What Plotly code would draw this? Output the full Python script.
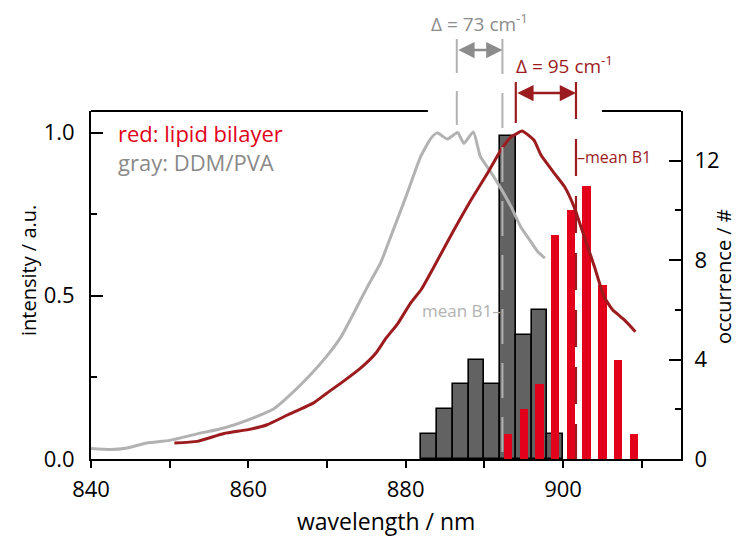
import plotly.graph_objects as go

# Emission spectra (normalised intensity)
gray_wl = [840.0, 842.5, 844.6, 847.1, 850.0, 853.5, 856.9, 860.0, 863.2, 864.9,
           867.5, 870.0, 871.8, 873.9, 875.3, 876.8, 878.1, 880.2, 881.9, 883.2,
           884.0, 885.3, 886.6, 887.4, 888.6, 889.5, 890.8, 892.1, 893.4, 894.6,
           895.9, 896.8, 897.7]
gray_int = [0.032, 0.029, 0.034, 0.049, 0.057, 0.077, 0.095, 0.120, 0.153, 0.187,
            0.248, 0.316, 0.375, 0.470, 0.535, 0.600, 0.681, 0.814, 0.926, 0.982,
            0.999, 0.980, 1.000, 0.967, 1.002, 0.926, 0.880, 0.829, 0.773, 0.712,
            0.666, 0.635, 0.615]

red_wl = [850.6, 853.5, 856.9, 860.0, 862.4, 864.9, 868.3, 870.0, 872.2, 874.3,
          876.2, 877.5, 879.0, 880.6, 882.0, 883.6, 886.1, 888.3, 890.4, 892.1,
          893.4, 894.0, 894.8, 896.3, 897.2, 898.9, 900.2, 901.4, 902.7, 904.0,
          905.2, 906.3, 907.8, 909.2]
red_int = [0.049, 0.054, 0.078, 0.090, 0.105, 0.134, 0.172, 0.202, 0.240, 0.279,
           0.324, 0.370, 0.415, 0.477, 0.520, 0.589, 0.700, 0.793, 0.875, 0.946,
           0.987, 0.995, 1.005, 0.977, 0.931, 0.875, 0.834, 0.773, 0.681, 0.589,
           0.498, 0.457, 0.426, 0.390]

# B1 peak-position histograms (2 nm bins)
gray_bins = [883, 885, 887, 889, 891, 893, 895, 897, 899]
gray_counts = [1, 2, 3, 4, 3, 13, 5, 6, 1]
red_bins = [893, 895, 897, 899, 901, 903, 905, 907, 909]
red_counts = [1, 2, 3, 9, 10, 11, 7, 4, 1]

# spectral maxima and histogram means (nm)
gray_peak, gray_mean = 886.5, 892.3
red_peak, red_mean = 894.0, 901.65

x_ticks = [840, 860, 880, 900]
int_ticks = [0.0, 0.5, 1.0]
occ_ticks = [0, 4, 8, 12]

RED = "#e2001a"
DARKRED = "#9b1b1e"
LGRAY = "#b2b2b2"
MGRAY = "#8c8c8c"
BARGRAY = "#626262"
FONT = "Open Sans"
TICK = 22


def delta_wn(a, b):
    return 1e7 / a - 1e7 / b


fig = go.Figure()

# histograms on the occurrence axis (drawn underneath the spectra)
fig.add_trace(go.Bar(x=gray_bins, y=gray_counts, width=2.0, yaxis="y",
                     marker=dict(color=BARGRAY, line=dict(color="black", width=1.6)),
                     showlegend=False))
fig.add_trace(go.Bar(x=red_bins, y=red_counts, width=1.06, yaxis="y",
                     marker=dict(color=RED, line=dict(width=0)),
                     showlegend=False))

# spectra on the intensity axis
fig.add_trace(go.Scatter(x=gray_wl, y=gray_int, yaxis="y2", mode="lines",
                         line=dict(color=LGRAY, width=3, shape="spline", smoothing=0.5),
                         showlegend=False))
fig.add_trace(go.Scatter(x=red_wl, y=red_int, yaxis="y2", mode="lines",
                         line=dict(color=DARKRED, width=3, shape="spline", smoothing=0.5),
                         showlegend=False))

H = 348.0


def py(pix):
    # paper y from a pixel row inside the figure
    return (459.0 - pix) / H


shapes = [
    # top frame with a gap for the shift annotations
    dict(type="line", xref="paper", yref="paper", x0=0, x1=0.571, y0=1, y1=1,
         line=dict(color="black", width=2)),
    dict(type="line", xref="paper", yref="paper", x0=0.866, x1=1, y0=1, y1=1,
         line=dict(color="black", width=2)),
    # marker lines
    dict(type="line", xref="x", yref="paper", x0=gray_peak, x1=gray_peak,
         y0=py(39), y1=py(127), line=dict(color=LGRAY, width=2, dash="34px,18px")),
    dict(type="line", xref="x", yref="paper", x0=gray_mean, x1=gray_mean,
         y0=py(39), y1=0, line=dict(color=LGRAY, width=2, dash="35px,19px")),
    dict(type="line", xref="x", yref="paper", x0=red_peak, x1=red_peak,
         y0=py(82), y1=py(123), line=dict(color=DARKRED, width=2.2)),
    dict(type="line", xref="x", yref="paper", x0=red_mean, x1=red_mean,
         y0=py(82), y1=0, line=dict(color=DARKRED, width=2.2, dash="37px,20px")),
]

d_gray = delta_wn(gray_peak, gray_mean)
d_red = delta_wn(red_peak, red_mean)

annotations = [
    # double arrows between the marker lines
    dict(x=gray_mean, y=py(50), xref="x", yref="paper", ax=gray_peak, ay=0,
         axref="x", ayref="pixel", text="", showarrow=True, arrowhead=2,
         arrowside="end+start", arrowsize=1.25, arrowwidth=2.6, arrowcolor=MGRAY,
         standoff=0, startstandoff=0),
    dict(x=red_mean, y=py(93), xref="x", yref="paper", ax=red_peak, ay=0,
         axref="x", ayref="pixel", text="", showarrow=True, arrowhead=2,
         arrowside="end+start", arrowsize=1.25, arrowwidth=2.6, arrowcolor=DARKRED,
         standoff=0, startstandoff=0),
    dict(x=(gray_peak + gray_mean) / 2, y=py(23), xref="x", yref="paper",
         text="Δ = %d cm<sup>-1</sup>" % round(d_gray), showarrow=False,
         font=dict(family=FONT, size=19, color=MGRAY), xanchor="center", yanchor="middle"),
    dict(x=red_peak, y=py(65), xref="x", yref="paper", xshift=-2,
         text="Δ = %d cm<sup>-1</sup>" % round(d_red), showarrow=False,
         font=dict(family=FONT, size=19, color=DARKRED), xanchor="left", yanchor="middle"),
    dict(x=red_mean, y=py(157), xref="x", yref="paper", text="–mean B1",
         showarrow=False, font=dict(family=FONT, size=16, color=DARKRED),
         xanchor="left", yanchor="middle", xshift=-1),
    dict(x=gray_mean, y=py(310), xref="x", yref="paper", text="mean B1–",
         showarrow=False, font=dict(family=FONT, size=17, color=LGRAY),
         xanchor="right", yanchor="middle", xshift=1),
    # sample key
    dict(x=0.042, y=py(133), xref="paper", yref="paper", text="red: lipid bilayer",
         showarrow=False, font=dict(family=FONT, size=22, color=RED),
         xanchor="left", yanchor="middle"),
    dict(x=0.042, y=py(162), xref="paper", yref="paper", text="gray: DDM/PVA",
         showarrow=False, font=dict(family=FONT, size=22, color="#8a8a8a"),
         xanchor="left", yanchor="middle"),
    # axis titles
    dict(x=0.5, y=py(521), xref="paper", yref="paper", text="wavelength / nm",
         showarrow=False, font=dict(family=FONT, size=23, color="black"),
         xanchor="center", yanchor="middle"),
    dict(x=-63.0 / 590, y=py(271), xref="paper", yref="paper", text="intensity / a.u.",
         showarrow=False, textangle=-90, font=dict(family=FONT, size=20, color="black"),
         xanchor="center", yanchor="middle"),
    dict(x=1 + 42.0 / 590, y=py(277), xref="paper", yref="paper", text="occurrence / #",
         showarrow=False, textangle=-90, font=dict(family=FONT, size=20, color="black"),
         xanchor="center", yanchor="middle"),
]

fig.update_layout(
    width=736, height=540,
    margin=dict(l=91, r=55, t=111, b=81),
    paper_bgcolor="white", plot_bgcolor="white",
    barmode="overlay", bargap=0,
    font=dict(family=FONT, size=TICK, color="black"),
    xaxis=dict(range=[840, 915], tickmode="array", tickvals=x_ticks,
               ticks="outside", ticklen=7, tickwidth=2, tickcolor="black",
               minor=dict(dtick=10, tick0=840, ticks="outside", ticklen=7,
                          tickwidth=2, tickcolor="black"),
               showline=True, linecolor="black", linewidth=2, mirror=False,
               showgrid=False, zeroline=False, ticklabelstandoff=3,
               tickfont=dict(size=TICK)),
    yaxis=dict(range=[0, 14], side="right", tickmode="array", tickvals=occ_ticks,
               ticks="inside", ticklen=12, tickwidth=2, tickcolor="black",
               minor=dict(dtick=2, tick0=0, ticks="inside", ticklen=6,
                          tickwidth=2, tickcolor="black"),
               showline=True, linecolor="black", linewidth=2, showgrid=False,
               zeroline=False, ticklabelstandoff=7, tickfont=dict(size=TICK)),
    yaxis2=dict(range=[0, 1.066], side="left", overlaying="y",
                tickmode="array", tickvals=int_ticks, tickformat=".1f",
                ticks="inside", ticklen=12, tickwidth=2, tickcolor="black",
                minor=dict(dtick=0.25, tick0=0, ticks="inside", ticklen=6,
                           tickwidth=2, tickcolor="black"),
                showline=True, linecolor="black", linewidth=2, showgrid=False,
                zeroline=False, ticklabelstandoff=10, tickfont=dict(size=TICK)),
    shapes=shapes,
    annotations=annotations,
)

fig.write_html("out.html")
